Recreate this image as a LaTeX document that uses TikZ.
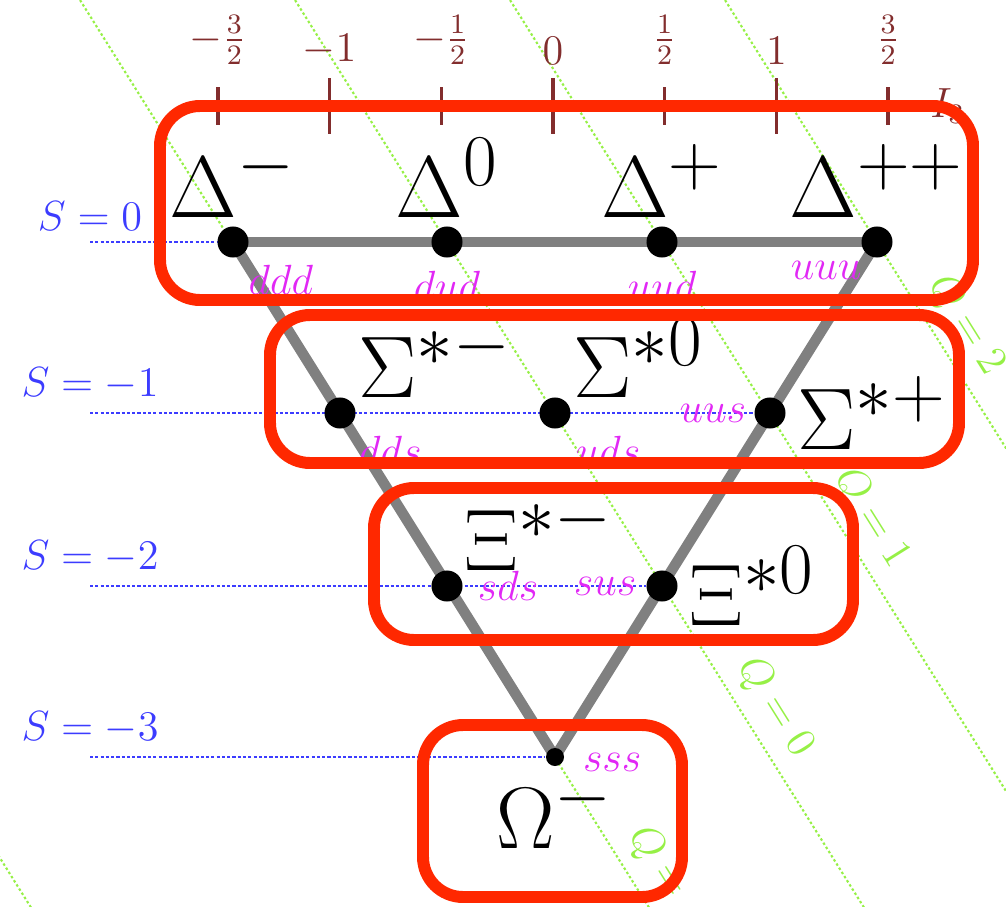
\documentclass[tikz,border=0pt]{standalone}
\usepackage{amsmath,amssymb}
\usepackage{xcolor}
\usepackage{tikz}
\usetikzlibrary{positioning, backgrounds}

\definecolor{axiscol}{RGB}{130,45,45}
\definecolor{scol}{RGB}{60,60,255}
\definecolor{qcol}{RGB}{150,240,70}
\definecolor{quarkcol}{RGB}{225,40,245}
\definecolor{boxcol}{RGB}{255,40,0}

\begin{document}
\begin{tikzpicture}[
      x=0.01cm, y=-0.01cm,
      dot/.style={
         circle,
         fill=black,
         inner sep=0pt,
         minimum size=0.31cm},
      smalldot/.style={circle, fill=black, inner sep=0pt, minimum size=0.18cm},
      particle/.style={font=\Huge, inner sep=1pt},
      quark/.style={font=\large, text=quarkcol, inner sep=1pt},
      slab/.style={font=\large, text=scol, inner sep=1pt},
      ticklab/.style={anchor=south, font=\large, text=axiscol, inner sep=1pt},
      qlab/.style={font=\large, text=qcol},
      sline/.style={scol, line width=0.6pt, dash pattern=on 0.9pt off 0.6pt},
      qline/.style={qcol, line width=0.6pt, dash pattern=on 0.7pt off 0.7pt},
      edgeline/.style={gray, line width=3pt},
      tickmark/.style={axiscol, line width=1pt},
      handbox/.style={boxcol, line width=3.4pt, rounded corners=0.4cm}
      ]
      \useasboundingbox (0,0) rectangle (1006,906);

      % the ten states
      \node[dot]  at (233,242) (dm) {};
      \node[dot]  at (447,242) (dz) {};
      \node[dot]  at (662,242) (dp) {};
      \node[dot]  at (877,242) (dpp) {};
      \node[dot]  at (340,413) (sm) {};
      \node[dot]  at (555,413) (sz) {};
      \node[dot]  at (770,413) (sp) {};
      \node[dot]  at (447,586) (xm) {};
      \node[dot]  at (662,586) (xz) {};
      \node[smalldot] at (555,757) (om) {};

      % strangeness rows
      \coordinate (s0) at (90,242);
      \coordinate (s1) at (90,413);
      \coordinate (s2) at (90,586);
      \coordinate (s3) at (90,757);
      \node[slab, above=2pt of s0] (ls0) {$S=0$};
      \node[slab, above=2.5pt of s1] (ls1) {$S=-1$};
      \node[slab, above=2.5pt of s2] (ls2) {$S=-2$};
      \node[slab, above=2.5pt of s3] (ls3) {$S=-3$};

      \begin{scope}[on background layer]
        \begin{scope}
          \clip (0,0) rectangle (1006,906);
          \foreach \q/\p in {2/0.402, 1/0.577, 0/0.749, -1/0.915}
            \draw[qline] ({295+215*\q-62.7},-100) --
               node[qlab, pos=\p, sloped, above] (q\q) {$Q=\q$}
               ({295+215*\q+627},1000);
          \draw[qline] (-600.7,-100) -- (89,1000);
        \end{scope}
        \draw[sline] (s0) -- (dm);
        \draw[sline] (s1) -- (sp);
        \draw[sline] (s2) -- (xz);
        \draw[sline] (s3) -- (om);
        \draw[edgeline] (dm.center) -- (dpp.center);
        \draw[edgeline] (dm.center) -- (om.center);
        \draw[edgeline] (dpp.center) -- (om.center);
      \end{scope}

      % isospin axis
      \draw[tickmark] (205,106) -- (925,106) node[right, inner sep=1pt, text=axiscol, font=\large] (ithree) {$I_3$};
      \foreach \k/\lab/\len in {-3/{-\frac{3}{2}}/19, -2/{-1}/28, -1/{-\frac{1}{2}}/19,
          0/0/28, 1/\frac{1}{2}/19, 2/1/28, 3/\frac{3}{2}/19} {
        \draw[tickmark] ({553+111.7*\k},106-\len) -- ({553+111.7*\k},106+\len);
        \node[ticklab] (t\k) at ({553+111.7*\k},69) {$\lab$};
      }

      % names
      \node[particle, above=1.2pt of dm] (ldm) {$\Delta^-$};
      \node[particle, above=1.2pt of dz] (ldz) {$\Delta^0$};
      \node[particle, above=1.2pt of dp] (ldp) {$\Delta^+$};
      \node[particle, above=1.2pt of dpp] (ldpp) {$\Delta^{++}$};
      \node[particle, above right=0pt and 0.7pt of sm] (lsm) {$\Sigma^{*-}$};
      \node[particle, above right=0pt and 0.7pt of sz] (lsz) {$\Sigma^{*0}$};
      \node[particle, right=2pt of sp] (lsp) {$\Sigma^{*+}$};
      \node[particle, above right=0pt and 0.5pt of xm] (lxm) {$\Xi^{*-}$};
      \node[particle, right=2pt of xz] (lxz) {$\Xi^{*0}$};
      \node[particle, below=1pt of om] (lom) {$\Omega^-$};

      % quark content
      \node[quark, below right=2pt and 0pt of dm] (qdm) {$ddd$};
      \node[quark, below=2.5pt of dz] (qdz) {$dud$};
      \node[quark, below=2.5pt of dp] (qdp) {$uud$};
      \node[quark, below left=1pt and 0pt of dpp] (qdpp) {$uuu$};
      \node[quark, below right=2pt and 1pt of sm] (qsm) {$dds$};
      \node[quark, below right=2pt and 1.5pt of sz] (qsz) {$uds$};
      \node[quark, left=1pt of sp] (qsp) {$uus$};
      \node[quark, right=3pt of xm] (qxm) {$sds$};
      \node[quark, left=1.5pt of xz] (qxz) {$sus$};
      \node[quark, right=4pt of om, yshift=-1.5pt] (qom) {$sss$};

      % red rings
      \draw[handbox] (160,106) rectangle (973,300);
      \draw[handbox] (270,315) rectangle (959,463);
      \draw[handbox] (374,488) rectangle (853,640);
      \draw[handbox] (423,725) rectangle (682,897);

    \end{tikzpicture}
\end{document}
